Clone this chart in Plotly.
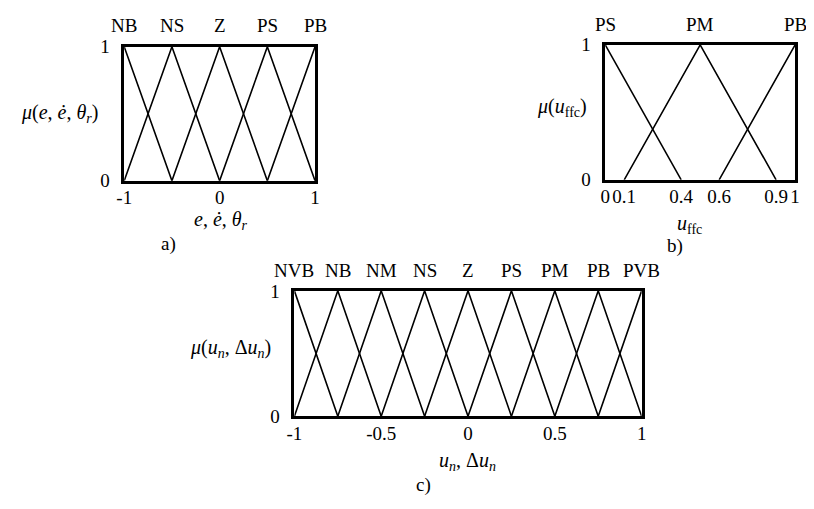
import plotly.graph_objects as go

# page body has an 8px default margin, so the figure is sized to fit inside it
PAGE_W, PAGE_H, OFF = 814, 509, 8
W, H = PAGE_W - 2 * OFF, PAGE_H - 2 * OFF
FONT = "Times New Roman, Liberation Serif, Tinos, serif"

# ---------------- data ----------------
# panel a: e, e_dot, theta_r
a_terms = ["NB", "NS", "Z", "PS", "PB"]
a_left = [-1.5, -1.0, -0.5, 0.0, 0.5]
a_peak = [-1.0, -0.5, 0.0, 0.5, 1.0]
a_right = [-0.5, 0.0, 0.5, 1.0, 1.5]
a_xticks = [-1, 0, 1]
a_xticktext = ["-1", "0", "1"]

# panel b: u_ffc
b_terms = ["PS", "PM", "PB"]
b_left = [-0.4, 0.1, 0.6]
b_peak = [0.0, 0.5, 1.0]
b_right = [0.4, 0.9, 1.4]
b_xticks = [0, 0.1, 0.4, 0.6, 0.9, 1]
b_xticktext = ["0", "0.1", "0.4", "0.6", "0.9", "1"]

# panel c: u_n, delta u_n
c_terms = ["NVB", "NB", "NM", "NS", "Z", "PS", "PM", "PB", "PVB"]
c_left = [-1.25, -1.0, -0.75, -0.5, -0.25, 0.0, 0.25, 0.5, 0.75]
c_peak = [-1.0, -0.75, -0.5, -0.25, 0.0, 0.25, 0.5, 0.75, 1.0]
c_right = [-0.75, -0.5, -0.25, 0.0, 0.25, 0.5, 0.75, 1.0, 1.25]
c_xticks = [-1, -0.5, 0, 0.5, 1]
c_xticktext = ["-1", "-0.5", "0", "0.5", "1"]

y_ticks = [0, 1]
y_ticktext = ["0", "1"]


def px_x(p):
    return (p - OFF) / W


def px_y(p):
    return 1 - (p - OFF) / H


fig = go.Figure()

panels = [
    ("x", "y", a_left, a_peak, a_right),
    ("x2", "y2", b_left, b_peak, b_right),
    ("x3", "y3", c_left, c_peak, c_right),
]
for xa, ya, L, P, R in panels:
    for l, p, r in zip(L, P, R):
        fig.add_trace(go.Scatter(
            x=[l, p, r], y=[0, 1, 0], mode="lines",
            line=dict(color="black", width=1.6),
            xaxis=xa, yaxis=ya, showlegend=False, hoverinfo="skip"))

tickfont = dict(family=FONT, size=19, color="black")


def xax(domain, rng, tv, tt, anchor):
    return dict(domain=domain, range=rng, tickvals=tv, ticktext=tt, anchor=anchor,
                showline=True, mirror=True, linecolor="black", linewidth=2.5,
                showgrid=False, zeroline=False, ticks="", tickangle=0,
                ticklabelstandoff=-2, tickfont=tickfont, fixedrange=True)


def yax(domain, anchor):
    return dict(domain=domain, range=[0, 1], tickvals=y_ticks, ticktext=y_ticktext,
                showline=True, mirror=True, linecolor="black", linewidth=2.5,
                showgrid=False, zeroline=False, ticks="", anchor=anchor,
                ticklabelstandoff=8, tickfont=tickfont, fixedrange=True)


fig.update_layout(
    width=W, height=H,
    margin=dict(l=0, r=0, t=0, b=0),
    paper_bgcolor="white", plot_bgcolor="white",
    font=dict(family=FONT, color="black"),
    xaxis=xax([px_x(118), px_x(312)], [-1, 1], a_xticks, a_xticktext, "y"),
    xaxis2=xax([px_x(607), px_x(800)], [0, 1], b_xticks, b_xticktext, "y2"),
    xaxis3=xax([px_x(291), px_x(644)], [-1, 1], c_xticks, c_xticktext, "y3"),
    yaxis=yax([px_y(178), px_y(38)], "x"),
    yaxis2=yax([px_y(177), px_y(36)], "x2"),
    yaxis3=yax([px_y(424), px_y(293)], "x3"),
)

ann = []
lab_font = dict(family=FONT, size=19, color="black")
title_font = dict(family=FONT, size=20, color="black")

# term labels on top
for terms, peaks, xref, ypix in [(a_terms, a_peak, "x", 16),
                                 (b_terms, b_peak, "x2", 15),
                                 (c_terms, c_peak, "x3", 272)]:
    for t, p in zip(terms, peaks):
        ann.append(dict(x=p, y=px_y(ypix), xref=xref, yref="paper", text=t,
                        showarrow=False, font=lab_font, xanchor="center", yanchor="middle"))

# axis titles and panel tags
texts = [
    (52, 108, "<i>μ</i>(<i>e</i>, <i>ė</i>, <i>θ<sub>r</sub></i>)", title_font),
    (216, 220, "<i>e</i>, <i>ė</i>, <i>θ<sub>r</sub></i>", title_font),
    (163, 244, "a)", lab_font),
    (563, 101, "<i>μ</i>(<i>u</i><sub>ffc</sub>)", title_font),
    (693, 224, "<i>u</i><sub>ffc</sub>", title_font),
    (678, 246, "b)", lab_font),
    (226, 353, "<i>μ</i>(<i>u<sub>n</sub></i>, Δ<i>u<sub>n</sub></i>)", title_font),
    (467, 471, "<i>u<sub>n</sub></i>, Δ<i>u<sub>n</sub></i>", title_font),
    (422, 496, "c)", lab_font),
]
for xp, yp, t, f in texts:
    ann.append(dict(x=px_x(xp), y=px_y(yp), xref="paper", yref="paper", text=t,
                    showarrow=False, font=f, xanchor="center", yanchor="middle"))

fig.update_layout(annotations=ann)
fig.write_html("out.html")
